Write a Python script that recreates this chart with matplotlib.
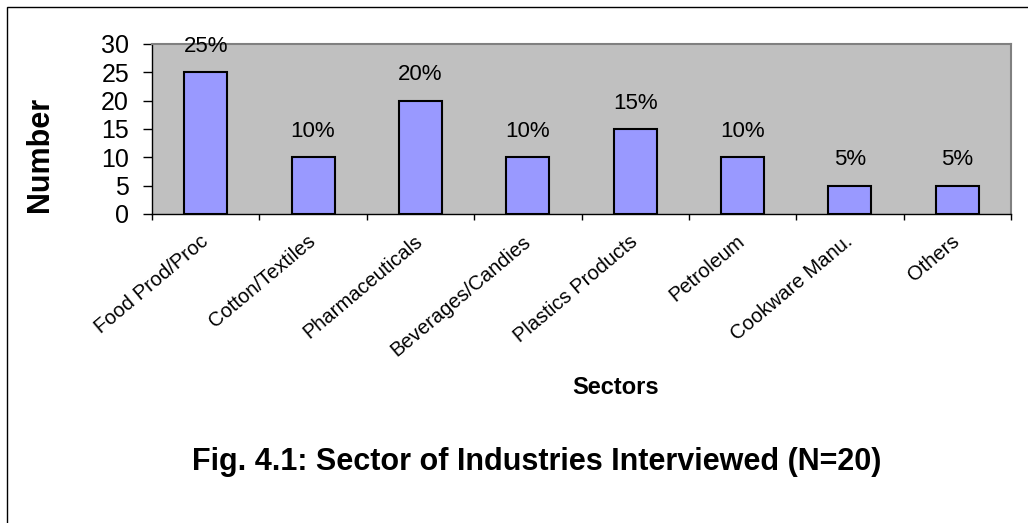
import numpy as np
import matplotlib
matplotlib.use("Agg")
import matplotlib.pyplot as plt
from matplotlib.patches import Rectangle

plt.rcParams['font.family'] = ['Liberation Sans', 'DejaVu Sans']

sectors = ['Food Prod/Proc', 'Cotton/Textiles', 'Pharmaceuticals', 'Beverages/Candies',
           'Plastics Products', 'Petroleum', 'Cookware Manu.', 'Others']
counts = [25, 10, 20, 10, 15, 10, 5, 5]
shares = ['25%', '10%', '20%', '10%', '15%', '10%', '5%', '5%']
yticks = [0, 5, 10, 15, 20, 25, 30]

W, H = 1028, 523
fig = plt.figure(figsize=(W / 100, H / 100), dpi=100)
fig.patch.set_facecolor('white')

# frame round the whole chart (runs off the right and bottom edges)
fig.add_artist(Rectangle((7 / W, -0.05), 1.2, 1 - 7 / H + 0.05, transform=fig.transFigure,
                         fill=False, edgecolor='black', linewidth=1.0))

ax = fig.add_axes([152 / W, 1 - 214 / H, (1011 - 152) / W, (214 - 44) / H])
ax.set_facecolor('#C0C0C0')

x = np.arange(len(sectors))
ax.bar(x, counts, width=0.4, color='#9999FF', edgecolor='black', linewidth=1.5, zorder=2)
for xi, c, s in zip(x, counts, shares):
    ax.annotate(s, (xi, c), xytext=(0, 11), textcoords='offset points',
                ha='center', va='bottom', fontsize=16)

ax.set_xlim(-0.5, len(sectors) - 0.5)
ax.set_ylim(0, 30)
ax.set_yticks(yticks)
ax.set_yticklabels([str(v) for v in yticks], fontsize=18)
ax.tick_params(axis='y', direction='out', length=6.5, width=1, pad=10)

ax.set_xticks(x)
ax.set_xticklabels(sectors, rotation=40, ha='right', va='center', rotation_mode='anchor',
                   fontsize=14.5)
ax.tick_params(axis='x', which='major', length=0, pad=18)
ax.set_xticks(np.arange(-0.5, len(sectors)), minor=True)
ax.tick_params(axis='x', which='minor', direction='out', length=4.5, width=1)

for side in ['top', 'right']:
    ax.spines[side].set_color('#808080')
    ax.spines[side].set_linewidth(1.5)
for side in ['left', 'bottom']:
    ax.spines[side].set_color('black')
    ax.spines[side].set_linewidth(1.0)

fig.text(40 / W, 1 - 154 / H, 'Number', rotation=90, ha='center', va='center',
         fontsize=22, fontweight='bold')
fig.text(616 / W, 1 - 388 / H, 'Sectors', ha='center', va='center',
         fontsize=17, fontweight='bold')
fig.text(537 / W, 1 - 462 / H, 'Fig. 4.1: Sector of Industries Interviewed (N=20)',
         ha='center', va='center', fontsize=22, fontweight='bold')

fig.savefig('out.png', dpi=100)
